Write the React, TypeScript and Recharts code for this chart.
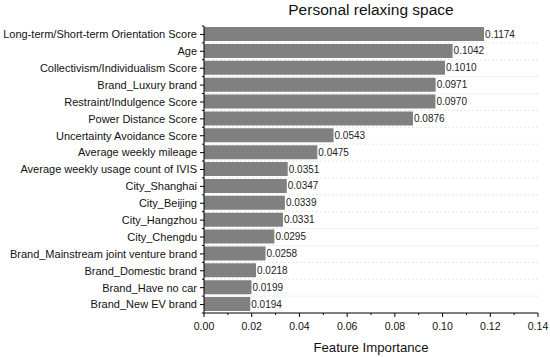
import React from 'react';
import { BarChart, Bar, XAxis, YAxis, CartesianGrid, LabelList } from 'recharts';

const features = [
  'Long-term/Short-term Orientation Score',
  'Age',
  'Collectivism/Individualism Score',
  'Brand_Luxury brand',
  'Restraint/Indulgence Score',
  'Power Distance Score',
  'Uncertainty Avoidance Score',
  'Average weekly mileage',
  'Average weekly usage count of IVIS',
  'City_Shanghai',
  'City_Beijing',
  'City_Hangzhou',
  'City_Chengdu',
  'Brand_Mainstream joint venture brand',
  'Brand_Domestic brand',
  'Brand_Have no car',
  'Brand_New EV brand',
];

const importance = [
  0.1174, 0.1042, 0.101, 0.0971, 0.097, 0.0876, 0.0543, 0.0475, 0.0351,
  0.0347, 0.0339, 0.0331, 0.0295, 0.0258, 0.0218, 0.0199, 0.0194,
];

const xTicks = [0, 0.01, 0.02, 0.03, 0.04, 0.05, 0.06, 0.07, 0.08, 0.09, 0.1, 0.11, 0.12, 0.13, 0.14];
const xMajorTicks = [0, 0.02, 0.04, 0.06, 0.08, 0.1, 0.12, 0.14];

const title = 'Personal relaxing space';
const xTitle = 'Feature Importance';

const data = features.map((name, i) => ({ name, value: importance[i] }));

const W = 550;
const H = 357;
const M = { top: 26, right: 12, bottom: 0, left: 0 };
const Y_W = 204;
const X_H = 44;
const PLOT_H = H - M.top - M.bottom - X_H;
const BAND = PLOT_H / features.length;
const FONT = '"Liberation Sans", Arial, sans-serif';

const YTick = (props: any) => {
  const { x, y, payload, index } = props;
  const axisX = x + 4 + 3;
  return (
    <g>
      <line x1={axisX} x2={axisX - 4} y1={y} y2={y} stroke="#000" strokeWidth={1} />
      <line x1={axisX} x2={axisX - 2} y1={y - BAND / 2} y2={y - BAND / 2} stroke="#000" strokeWidth={1} />
      {index === features.length - 1 && (
        <line x1={axisX} x2={axisX - 2} y1={y + BAND / 2} y2={y + BAND / 2} stroke="#000" strokeWidth={1} />
      )}
      <text x={x} y={y} dy="0.35em" textAnchor="end" fontSize={11} fill="#111" fontFamily={FONT}>
        {payload.value}
      </text>
    </g>
  );
};

const XTick = (props: any) => {
  const { x, y, payload } = props;
  const axisY = y - 5;
  const major = xMajorTicks.some((t) => Math.abs(t - payload.value) < 1e-9);
  return (
    <g>
      <line x1={x} x2={x} y1={axisY} y2={axisY + (major ? 4 : 2)} stroke="#000" strokeWidth={1} />
      {major && (
        <text x={x} y={axisY + 17} textAnchor="middle" fontSize={10.5} fill="#111" fontFamily={FONT}>
          {payload.value.toFixed(2)}
        </text>
      )}
    </g>
  );
};

export default function App() {
  return (
    <div style={{ position: 'absolute', left: 0, top: 0, width: W, height: H, background: '#fff' }}>
      <div
        style={{
          position: 'absolute',
          left: Y_W,
          width: W - Y_W - M.right,
          top: 1,
          textAlign: 'center',
          fontFamily: FONT,
          fontSize: 15.5,
          color: '#111',
          lineHeight: '18px',
        }}
      >
        {title}
      </div>
      <BarChart width={W} height={H} data={data} layout="vertical" margin={M}>
        <CartesianGrid
          vertical={false}
          horizontal
          stroke="#e6e6e6"
          strokeDasharray="2 2"
          horizontalCoordinatesGenerator={({ offset }: any) =>
            features.slice(1).map((_, i) => offset.top + ((i + 1) * offset.height) / features.length)
          }
        />
        <XAxis
          type="number"
          dataKey="value"
          domain={[0, 0.14]}
          ticks={xTicks}
          interval={0}
          height={X_H}
          tickSize={5}
          tickMargin={0}
          tickLine={false}
          tick={<XTick />}
          axisLine={{ stroke: '#000', strokeWidth: 1 }}
          label={{
            value: xTitle,
            position: 'insideBottom',
            offset: 5,
            fontSize: 13.2,
            fill: '#111',
            fontFamily: FONT,
          }}
        />
        <YAxis
          type="category"
          dataKey="name"
          width={Y_W}
          interval={0}
          tickSize={4}
          tickMargin={3}
          tickLine={false}
          tick={<YTick />}
          axisLine={{ stroke: '#000', strokeWidth: 1 }}
        />
        <Bar dataKey="value" fill="#808080" barSize={14} isAnimationActive={false}>
          <LabelList
            dataKey="value"
            position="right"
            offset={1}
            formatter={(v: any) => Number(v).toFixed(4)}
            style={{ fontSize: 10, fill: '#222', fontFamily: FONT }}
          />
        </Bar>
      </BarChart>
    </div>
  );
}
